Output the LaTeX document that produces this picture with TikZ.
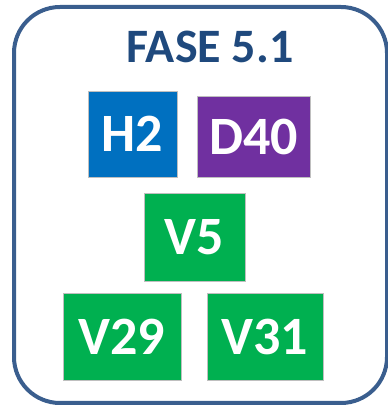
\documentclass[tikz,border=0pt]{standalone}
\usepackage{fontspec}
\setmainfont{Carlito}
\usepackage{tikz}

\definecolor{frameblue}{RGB}{58,94,142}
\definecolor{titleblue}{RGB}{31,73,125}
\definecolor{hblue}{RGB}{0,112,192}
\definecolor{dpurple}{RGB}{112,48,160}
\definecolor{vgreen}{RGB}{0,176,80}

\begin{document}
\begin{tikzpicture}[x=1pt,y=1pt,
  box/.style={draw=black!25,line width=0.8pt,text=white,inner sep=0pt,
    font=\fontsize{54}{54}\selectfont\bfseries},
  title/.style={text=titleblue,font=\fontsize{48}{48}\selectfont\bfseries}]
\useasboundingbox (0,0) rectangle (388,407);

%%% frame
\draw[frameblue,line width=4pt,rounded corners=46pt] (14,4) rectangle (387,400);

\node[title] (fase) at (210,360) {FASE 5.1};

%%% boxes
\node[box,fill=hblue,minimum width=89pt,minimum height=86pt] (h2) at (132.5,273) {H2};
\node[box,fill=dpurple,minimum width=113pt,minimum height=81pt] (d40) at (253.5,270.5) {D40};
\node[box,fill=vgreen,minimum width=101pt,minimum height=88pt] (v5) at (194.5,170) {V5};
\node[box,fill=vgreen,minimum width=118pt,minimum height=87pt] (v29) at (122,70.5) {V29};
\node[box,fill=vgreen,minimum width=116pt,minimum height=87pt] (v31) at (265,70.5) {V31};
\end{tikzpicture}
\end{document}
